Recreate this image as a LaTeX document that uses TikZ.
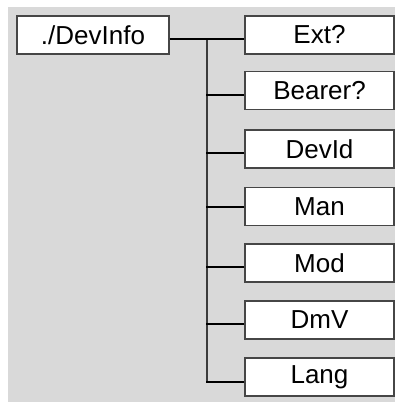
\documentclass[tikz,border=0pt]{standalone}
\usepackage{fontspec}
\setmainfont{Liberation Sans}
\definecolor{bggray}{RGB}{217,217,217}
\definecolor{boxline}{RGB}{70,70,70}
\definecolor{busline}{RGB}{60,60,60}
\begin{document}
\begin{tikzpicture}[x=1pt,y=-1pt,
  box/.style={draw=boxline,line width=1.3pt,fill=white,inner sep=0pt,
    minimum height=38pt,font=\fontsize{26}{30}\selectfont},
  parentbox/.style={box,minimum width=152pt},
  childbox/.style={box,minimum width=149pt},
  conn/.style={draw=black,line width=1.1pt},
  bus/.style={draw=busline,line width=2pt}]
\useasboundingbox (0,0) rectangle (395,402);
\fill[bggray] (8,7) rectangle (395,402);
\node[parentbox] (devinfo) at (93,35) {./DevInfo};
\node[childbox] (ext) at (319.5,35) {Ext?};
\node[childbox] (bearer) at (319.5,90.5) {Bearer?};
\node[childbox] (devid) at (319.5,149) {DevId};
\node[childbox] (man) at (319.5,206.5) {Man};
\node[childbox] (mod) at (319.5,263) {Mod};
\node[childbox] (dmv) at (319.5,320) {DmV};
\node[childbox] (lang) at (319.5,377) {Lang};
\coordinate (bustop) at (207,39);
\coordinate (busbot) at (207,382);
\draw[bus] (bustop) -- (busbot);
\draw[conn] ([yshift=-4pt]devinfo.east) -- ([yshift=-4pt]ext.west);
\draw[conn] ([yshift=-4.5pt]bearer.west) -- ++(-38,0);
\draw[conn] ([yshift=-4pt]devid.west) -- ++(-38,0);
\draw[conn] ([yshift=-0.5pt]man.west) -- ++(-38,0);
\draw[conn] ([yshift=-4pt]mod.west) -- ++(-38,0);
\draw[conn] ([yshift=-4pt]dmv.west) -- ++(-38,0);
\draw[conn] ([yshift=-5pt]lang.west) -- ++(-38,0);
\end{tikzpicture}
\end{document}
